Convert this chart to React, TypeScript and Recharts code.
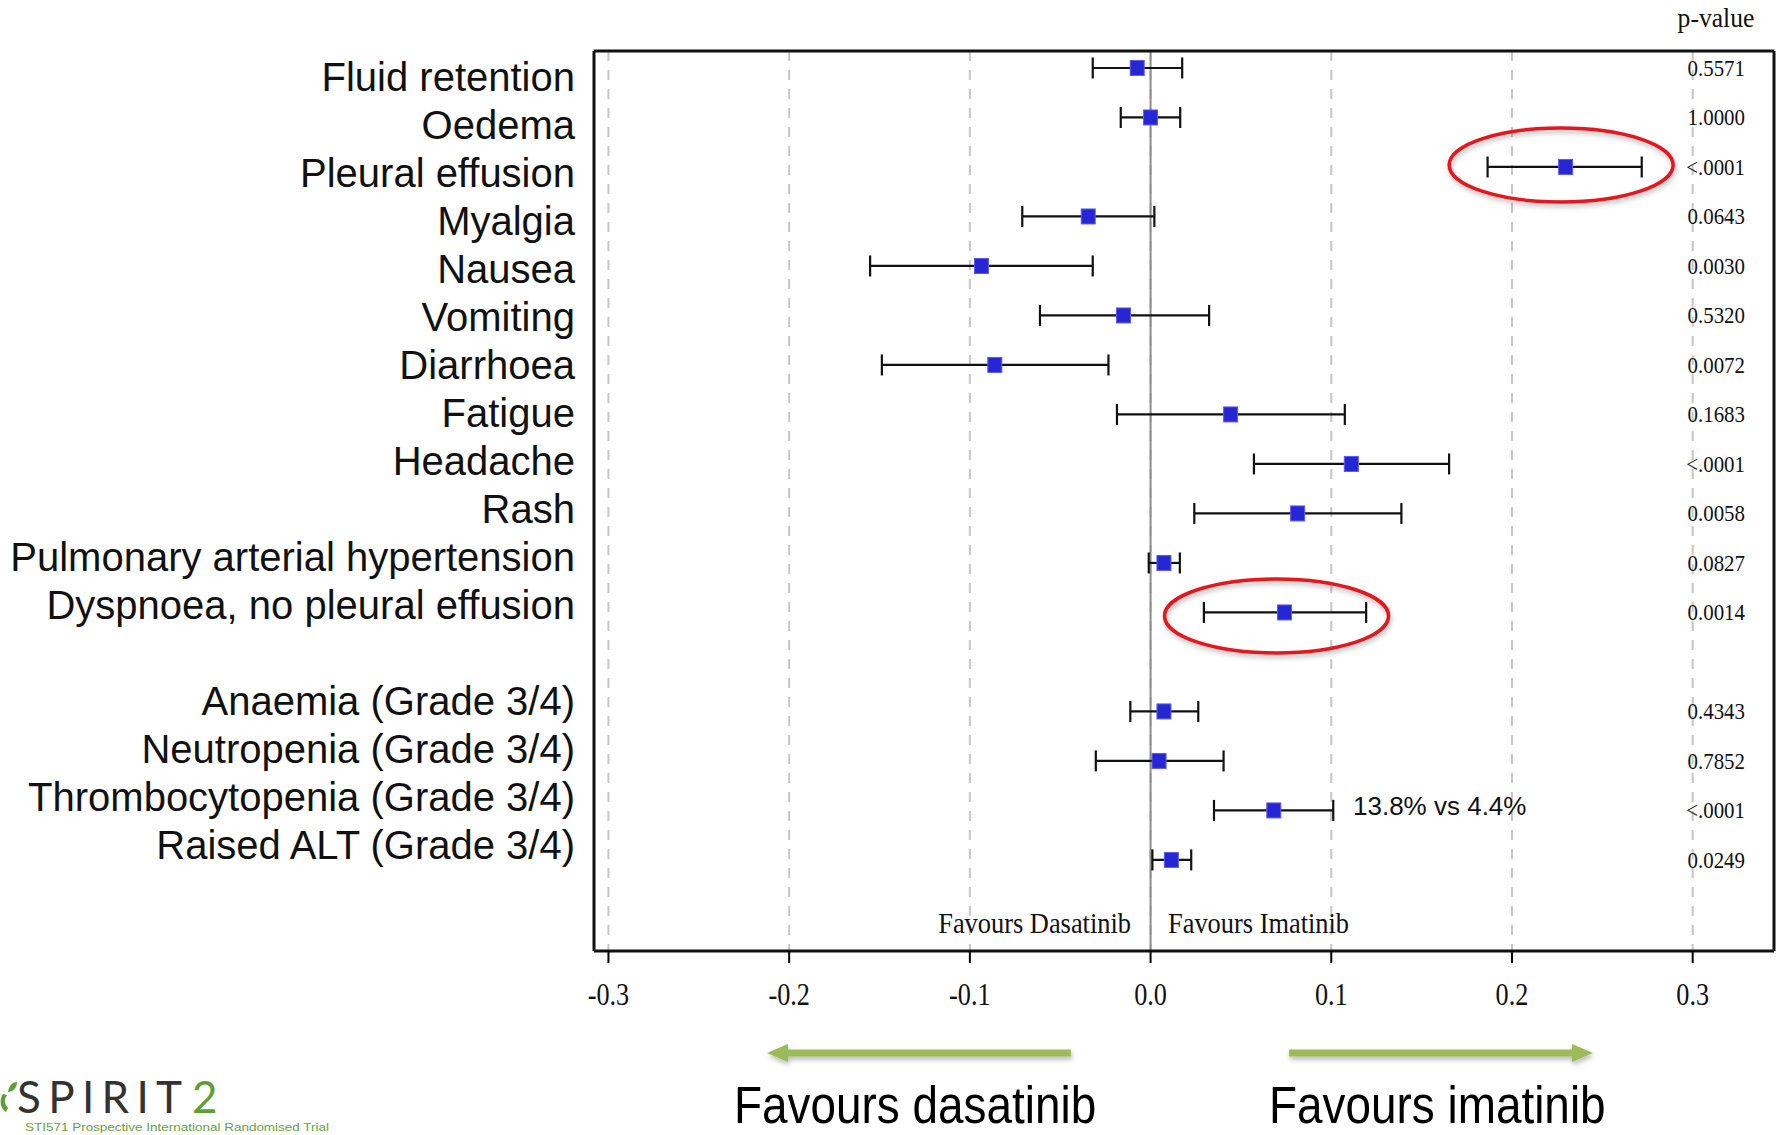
import { ScatterChart, Scatter, XAxis, YAxis, CartesianGrid, ErrorBar, ReferenceLine, ReferenceDot } from "recharts";

// adverse events, top to bottom (row 12 is the blank gap before the lab values)
const categories = [
  "Fluid retention",
  "Oedema",
  "Pleural effusion",
  "Myalgia",
  "Nausea",
  "Vomiting",
  "Diarrhoea",
  "Fatigue",
  "Headache",
  "Rash",
  "Pulmonary arterial hypertension",
  "Dyspnoea, no pleural effusion",
  "Anaemia (Grade 3/4)",
  "Neutropenia (Grade 3/4)",
  "Thrombocytopenia (Grade 3/4)",
  "Raised ALT (Grade 3/4)",
];
const rowIndex = [0, 1, 2, 3, 4, 5, 6, 7, 8, 9, 10, 11, 13, 14, 15, 16];
const estimate = [-0.0074, 0.0, 0.2297, -0.0345, -0.0936, -0.015, -0.0862, 0.0443, 0.1111, 0.0814, 0.0074, 0.0741, 0.0074, 0.0047, 0.0682, 0.0115];
const lowerCI = [-0.032, -0.0165, 0.1865, -0.071, -0.1552, -0.0612, -0.1487, -0.0186, 0.0572, 0.0242, -0.001, 0.0295, -0.0112, -0.0303, 0.0351, 0.001];
const upperCI = [0.0175, 0.0164, 0.2718, 0.0021, -0.032, 0.0324, -0.0233, 0.1075, 0.1652, 0.1388, 0.0162, 0.1193, 0.0264, 0.0404, 0.1011, 0.0225];
const pValues = ["0.5571", "1.0000", "<.0001", "0.0643", "0.0030", "0.5320", "0.0072", "0.1683", "<.0001", "0.0058", "0.0827", "0.0014", "0.4343", "0.7852", "<.0001", "0.0249"];
const xTicks = [-0.3, -0.2, -0.1, 0, 0.1, 0.2, 0.3];
// red circles drawn round the two highlighted rows
const highlights = [
  { x: 0.2272, y: 1.96 },
  { x: 0.0697, y: 11.07 },
];

const data = rowIndex.map((row, i) => ({
  x: estimate[i],
  y: row,
  err: [estimate[i] - lowerCI[i], upperCI[i] - estimate[i]],
}));

const SERIF = '"Liberation Serif", "Times New Roman", serif';
const SANS = '"Liberation Sans", Arial, sans-serif';
const GREEN = "#9bbb59";

const xDomain = [-0.308, 0.345];
const yDomain = [-0.343, 17.84];
const labelDomain = [-0.546, 18.2];

const Square = (props: any) => {
  const { cx, cy } = props;
  return <rect x={cx - 7} y={cy - 7.5} width={14} height={15} fill="#2626d4" stroke="#5c5cf0" strokeWidth={1} />;
};

const CategoryTick = (props: any) => {
  const { y, payload } = props;
  const idx = rowIndex.indexOf(payload.value);
  return (
    <text x={575} y={y + 14} textAnchor="end" fontFamily={SANS} fontSize={40} fill="#111">
      {categories[idx]}
    </text>
  );
};

const PValueTick = (props: any) => {
  const { y, payload } = props;
  const idx = rowIndex.indexOf(payload.value);
  return (
    <text transform={`translate(1745, ${y + 8}) scale(0.87, 1)`} textAnchor="end" fontFamily={SERIF} fontSize={24} fill="#111">
      {pValues[idx]}
    </text>
  );
};

const XTick = (props: any) => {
  const { x, y, payload } = props;
  return (
    <text transform={`translate(${x}, ${y + 40}) scale(0.82, 1)`} textAnchor="middle" fontFamily={SERIF} fontSize={32} fill="#111">
      {payload.value.toFixed(1)}
    </text>
  );
};

const Highlight = (props: any) => {
  const { cx, cy } = props;
  return <ellipse cx={cx} cy={cy} rx={112} ry={37} fill="none" stroke="#e5151d" strokeWidth={3.5} filter="url(#softShadow)" />;
};

const App = () => {
  return (
    <div style={{ position: "absolute", left: 0, top: 0, width: 1779, height: 1135, background: "#fff", overflow: "hidden" }}>
      <ScatterChart width={1779} height={1135} margin={{ top: 50, right: 0, bottom: 144, left: 0 }}>
        <CartesianGrid horizontal={false} stroke="#c6c6c6" strokeWidth={2} strokeDasharray="10 9" />
        <XAxis
          type="number"
          dataKey="x"
          domain={xDomain}
          allowDataOverflow
          ticks={xTicks}
          height={40}
          tickSize={12}
          tick={<XTick />}
          tickLine={{ stroke: "#000", strokeWidth: 2 }}
          axisLine={{ stroke: "#111", strokeWidth: 3 }}
        />
        <XAxis
          xAxisId="top"
          orientation="top"
          type="number"
          domain={xDomain}
          allowDataOverflow
          height={1}
          tick={false}
          tickLine={false}
          axisLine={{ stroke: "#111", strokeWidth: 3 }}
        />
        <YAxis
          type="number"
          dataKey="y"
          domain={yDomain}
          allowDataOverflow
          reversed
          width={0}
          tick={false}
          tickLine={false}
          axisLine={false}
        />
        <YAxis
          yAxisId="labels"
          type="number"
          domain={labelDomain}
          allowDataOverflow
          reversed
          ticks={rowIndex}
          interval={0}
          width={594}
          tick={<CategoryTick />}
          tickLine={false}
          axisLine={{ stroke: "#111", strokeWidth: 3 }}
        />
        <YAxis
          yAxisId="pv"
          orientation="right"
          type="number"
          domain={yDomain}
          allowDataOverflow
          reversed
          ticks={rowIndex}
          interval={0}
          width={5}
          tick={<PValueTick />}
          tickLine={false}
          axisLine={{ stroke: "#111", strokeWidth: 3 }}
        />
        <ReferenceLine x={0} stroke="#8c8c8c" strokeWidth={2} />
        <Scatter data={data} shape={<Square />} isAnimationActive={false}>
          <ErrorBar dataKey="err" direction="x" width={10.5} stroke="#111" strokeWidth={2.2} />
        </Scatter>
        {highlights.map((h, i) => (
          <ReferenceDot key={i} x={h.x} y={h.y} r={0} ifOverflow="visible" shape={(p: any) => <Highlight {...p} />} />
        ))}
      </ScatterChart>

      <svg width={1779} height={1135} style={{ position: "absolute", left: 0, top: 0, pointerEvents: "none" }}>
        <defs>
          <filter id="softShadow" x="-20%" y="-40%" width="140%" height="180%">
            <feDropShadow dx="1" dy="3" stdDeviation="2.5" floodColor="#000" floodOpacity="0.28" />
          </filter>
        </defs>

        <text transform="translate(1716, 27) scale(0.95, 1)" textAnchor="middle" fontFamily={SERIF} fontSize={27} fill="#111">
          p-value
        </text>
        <text transform="translate(1131, 933) scale(0.88, 1)" textAnchor="end" fontFamily={SERIF} fontSize={30} fill="#111">
          Favours Dasatinib
        </text>
        <text transform="translate(1168, 933) scale(0.88, 1)" textAnchor="start" fontFamily={SERIF} fontSize={30} fill="#111">
          Favours Imatinib
        </text>
        <text x={1353} y={815} fontFamily={SANS} fontSize={26} fill="#111">
          13.8% vs 4.4%
        </text>

        {/* green direction arrows */}
        <g filter="url(#softShadow)" fill={GREEN}>
          <rect x={785} y={1049.5} width={286} height={7} />
          <polygon points="767,1053 788,1044 788,1062" />
          <rect x={1289} y={1049.5} width={286} height={7} />
          <polygon points="1593,1053 1572,1044 1572,1062" />
        </g>
        <text transform="translate(734, 1123) scale(0.9, 1)" fontFamily={SANS} fontSize={51} fill="#000">
          Favours dasatinib
        </text>
        <text transform="translate(1269, 1123) scale(0.9, 1)" fontFamily={SANS} fontSize={51} fill="#000">
          Favours imatinib
        </text>

        {/* SPIRIT2 logo */}
        <path d="M3 1094 C-1 1100 0 1108 6 1112 L8 1108 C4 1104 4 1099 7 1095 Z" fill="#5f9e35" />
        <path d="M8 1092 C9 1085 13 1082 17 1082 C17 1088 13 1092 8 1092 Z" fill="#5f9e35" />
        <text x={17} y={1113} fontFamily="Lato, 'Open Sans', sans-serif" fontSize={44} fill="#333" textLength={165} lengthAdjust="spacing">
          SPIRIT
        </text>
        <text x={192} y={1113} fontFamily="Lato, 'Open Sans', sans-serif" fontSize={44} fill="#5f9e35">
          2
        </text>
        <text x={25} y={1131} fontFamily={SANS} fontSize={11.5} fill="#6aa23f" textLength={304} lengthAdjust="spacingAndGlyphs">
          STI571 Prospective International Randomised Trial
        </text>
      </svg>
    </div>
  );
};

export default App;
